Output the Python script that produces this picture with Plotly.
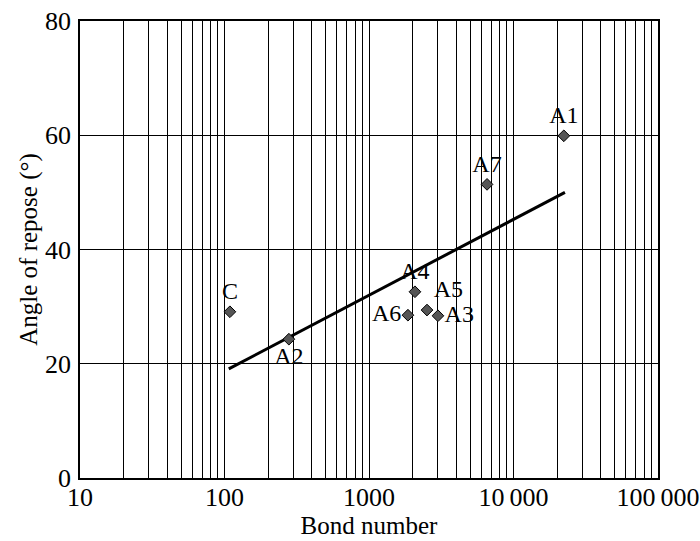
import plotly.graph_objects as go

labels = ["C", "A2", "A4", "A5", "A6", "A3", "A7", "A1"]
bond = [109, 279, 2080, 2520, 1860, 3000, 6560, 22300]
angle = [29.1, 24.3, 32.6, 29.4, 28.5, 28.4, 51.4, 59.9]
positions = ["top center", "bottom center", "top center", "top right",
             "middle left", "middle right", "top center", "top center"]

fit_x = [107, 22700]
fit_y = [19.1, 50.0]

xtick_vals = [10, 100, 1000, 10000, 100000]
xtick_text = ["10", "100", "1000", "10\u2009000", "100\u2009000"]
ytick_vals = [0, 20, 40, 60, 80]

minor_vals = [m * 10 ** d for d in range(1, 5) for m in range(2, 10)]

font = "Liberation Serif, Times New Roman, serif"

fig = go.Figure()
fig.add_trace(go.Scatter(x=fit_x, y=fit_y, mode="lines",
                         line=dict(color="black", width=3), showlegend=False))
fig.add_trace(go.Scatter(x=bond, y=angle, mode="markers+text", text=labels,
                         textposition=positions,
                         textfont=dict(family=font, size=24, color="black"),
                         marker=dict(symbol="diamond", size=9, color="#555555",
                                     line=dict(color="black", width=1)),
                         showlegend=False, cliponaxis=False))

fig.update_layout(
    width=700, height=541,
    margin=dict(l=80, r=42, t=21, b=63, autoexpand=False),
    paper_bgcolor="white", plot_bgcolor="white",
    font=dict(family=font, size=26, color="black"),
    xaxis=dict(type="log", range=[1, 5], tickvals=xtick_vals, ticktext=xtick_text,
               showgrid=True, gridcolor="black", gridwidth=1,
               minor=dict(tickvals=minor_vals, showgrid=True, gridcolor="black", gridwidth=1),
               showline=True, linecolor="black", linewidth=1.5, mirror=True,
               ticks="", zeroline=False, ticklabelstandoff=-5, automargin=False,
               tickfont=dict(size=26),
               title=dict(text="Bond number", font=dict(size=25), standoff=0)),
    yaxis=dict(range=[0, 80], tickvals=ytick_vals,
               showgrid=True, gridcolor="black", gridwidth=1,
               showline=True, linecolor="black", linewidth=1.5, mirror=True,
               ticks="", zeroline=False, ticklabelstandoff=2, automargin=False,
               tickfont=dict(size=26),
               title=dict(text="Angle of repose (°)", font=dict(size=25), standoff=0)),
)

fig.write_html("out.html")
